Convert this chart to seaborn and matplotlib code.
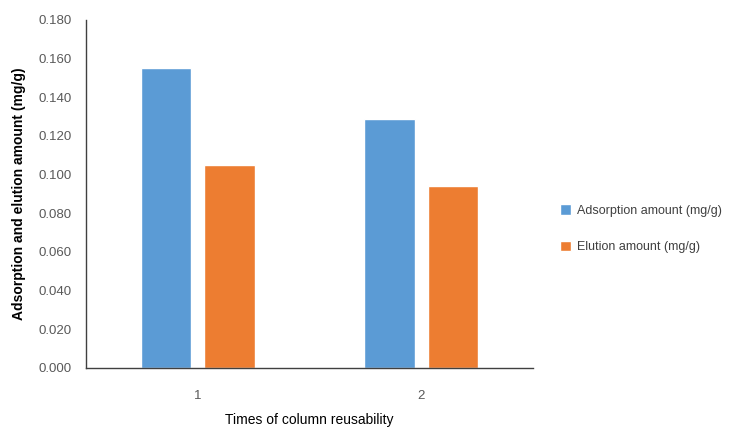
import matplotlib
matplotlib.use("Agg")
import matplotlib.pyplot as plt
import seaborn as sns
import pandas as pd
from matplotlib.ticker import FormatStrFormatter

categories = ["1", "2"]
series_names = ["Adsorption amount (mg/g)", "Elution amount (mg/g)"]
adsorption = [0.155, 0.129]
elution = [0.105, 0.094]
colors = ["#5B9BD5", "#ED7D31"]

df = pd.DataFrame({
    "cycle": categories * 2,
    "value": adsorption + elution,
    "series": [series_names[0]] * 2 + [series_names[1]] * 2,
})

sns.set_style("white")
plt.rcParams["font.family"] = ["Liberation Sans", "DejaVu Sans"]

fig = plt.figure(figsize=(7.33, 4.30), dpi=100)
ax = fig.add_axes([86 / 733, 62 / 430, 447 / 733, 348 / 430])

sns.barplot(data=df, x="cycle", y="value", hue="series", palette=colors,
            width=0.57, gap=0.21, ax=ax, saturation=1)

ax.set_ylim(0, 0.18)
ax.set_yticks([i * 0.02 for i in range(10)])
ax.yaxis.set_major_formatter(FormatStrFormatter("%.3f"))
ax.set_xlim(-0.5, 1.5)
for s in ["top", "right"]:
    ax.spines[s].set_visible(False)
ax.spines["left"].set_color("#404040")
ax.spines["bottom"].set_color("#404040")
ax.spines["left"].set_linewidth(1.0)
ax.spines["bottom"].set_linewidth(1.0)
ax.tick_params(axis="both", length=0, labelsize=9.5, colors="#595959", pad=10)
ax.tick_params(axis="x", pad=16)

ax.set_ylabel("Adsorption and elution amount (mg/g)", fontsize=10,
              fontweight="bold", color="#000000", labelpad=9)
ax.set_xlabel("Times of column reusability", fontsize=10, color="#000000",
              labelpad=8)

ax.legend(loc="center left", bbox_to_anchor=(1.06, 0.40), frameon=False,
          borderaxespad=0, borderpad=0,
          fontsize=9, handlelength=0.9, handleheight=0.9, handletextpad=0.5,
          labelspacing=1.9, labelcolor="#404040")

fig.savefig("out.png", dpi=100)
